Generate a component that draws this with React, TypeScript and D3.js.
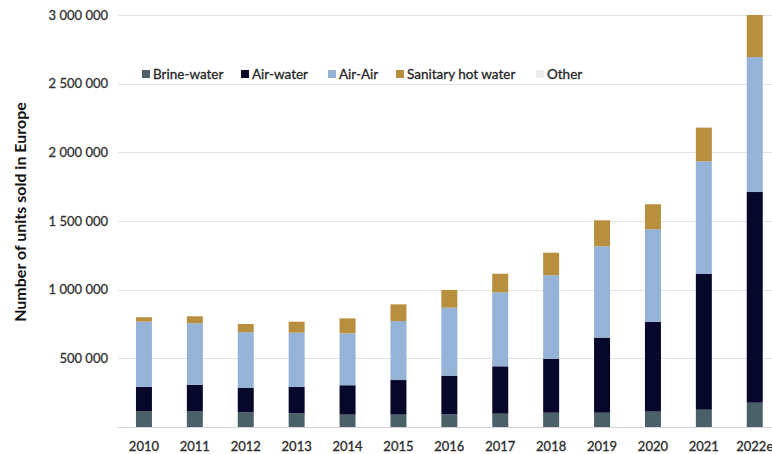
import React, { useRef, useEffect } from "react";
import * as d3 from "d3";

const years = ["2010", "2011", "2012", "2013", "2014", "2015", "2016", "2017", "2018", "2019", "2020", "2021", "2022e"];

const brineWater = [116000, 116000, 107000, 100000, 90000, 90000, 92000, 97000, 104000, 104000, 112000, 126000, 177000];
const airWater = [177000, 192000, 179000, 193000, 214000, 252000, 282000, 345000, 393000, 547000, 653000, 988000, 1534000];
const airAir = [474000, 447000, 404000, 394000, 378000, 430000, 495000, 539000, 608000, 665000, 675000, 821000, 983000];
const sanitaryHotWater = [32000, 51000, 60000, 80000, 109000, 121000, 129000, 135000, 164000, 189000, 182000, 245000, 306000];
const other = [0, 0, 0, 0, 0, 0, 0, 0, 0, 0, 0, 0, 0];

const seriesNames = ["Brine-water", "Air-water", "Air-Air", "Sanitary hot water", "Other"];
const seriesColors = ["#4b6169", "#07072b", "#94b3d6", "#b78f3e", "#ededed"];
const yTicks = [500000, 1000000, 1500000, 2000000, 2500000, 3000000];

const W = 772;
const H = 454;

const App: React.FC = () => {
  const svgRef = useRef<SVGSVGElement>(null);

  useEffect(() => {
    if (!svgRef.current) return;
    const svg = d3.select(svgRef.current);
    svg.selectAll("*").remove();

    const font = "Lato, 'Open Sans', sans-serif";

    const x = d3
      .scaleBand<string>()
      .domain(years)
      .range([118.5, 118.5 + 13 * 50.9])
      .paddingInner(0.686)
      .paddingOuter(0.343);

    const y = d3.scaleLinear().domain([0, 3000000]).range([427, 15]);

    // gridlines
    svg
      .append("g")
      .selectAll("line")
      .data(yTicks)
      .join("line")
      .attr("x1", 118)
      .attr("x2", W)
      .attr("y1", (d) => Math.round(y(d)) + 0.5)
      .attr("y2", (d) => Math.round(y(d)) + 0.5)
      .attr("stroke", "#e3e3e3")
      .attr("stroke-width", 1.2);

    svg
      .append("line")
      .attr("x1", 118)
      .attr("x2", W)
      .attr("y1", Math.round(y(0)) + 0.5)
      .attr("y2", Math.round(y(0)) + 0.5)
      .attr("stroke", "#d4d4d4")
      .attr("stroke-width", 1.2);

    // y tick labels
    const fmt = (v: number) => d3.format(",")(v).replace(/,/g, " ");
    svg
      .append("g")
      .selectAll("text")
      .data(yTicks)
      .join("text")
      .attr("x", 108)
      .attr("y", (d) => y(d))
      .attr("dy", "0.35em")
      .attr("text-anchor", "end")
      .attr("font-family", font)
      .attr("font-size", 13)
      .attr("fill", "#333")
      .attr("stroke", "#333")
      .attr("stroke-width", 0.3)
      .text((d) => fmt(d));

    // stacked bars
    const table = years.map((yr, i) => ({
      year: yr,
      "Brine-water": brineWater[i],
      "Air-water": airWater[i],
      "Air-Air": airAir[i],
      "Sanitary hot water": sanitaryHotWater[i],
      Other: other[i],
    }));
    const stack = d3.stack<any>().keys(seriesNames)(table);

    svg
      .append("g")
      .selectAll("g")
      .data(stack)
      .join("g")
      .attr("fill", (_d, i) => seriesColors[i])
      .selectAll("rect")
      .data((d) => d)
      .join("rect")
      .attr("x", (d: any) => x(d.data.year)!)
      .attr("width", x.bandwidth())
      .attr("y", (d) => y(d[1]))
      .attr("height", (d) => y(d[0]) - y(d[1]));

    // x labels
    svg
      .append("g")
      .selectAll("text")
      .data(years)
      .join("text")
      .attr("x", (d) => x(d)! + x.bandwidth() / 2)
      .attr("y", 451)
      .attr("text-anchor", "middle")
      .attr("font-family", font)
      .attr("font-size", 13)
      .attr("fill", "#2a2a2a")
      .attr("stroke", "#2a2a2a")
      .attr("stroke-width", 0.3)
      .text((d) => d);

    // legend
    const legendX = [142, 241, 328, 396, 536];
    const lg = svg
      .append("g")
      .selectAll("g")
      .data(seriesNames)
      .join("g")
      .attr("transform", (_d, i) => `translate(${legendX[i]},74)`);
    lg.append("rect")
      .attr("x", 0)
      .attr("y", -4)
      .attr("width", 8)
      .attr("height", 8)
      .attr("fill", (_d, i) => seriesColors[i]);
    lg.append("text")
      .attr("x", 11)
      .attr("dy", "0.35em")
      .attr("font-family", font)
      .attr("font-size", 13.5)
      .attr("fill", "#262626")
      .attr("stroke", "#262626")
      .attr("stroke-width", 0.3)
      .text((d) => d);

    // y axis title
    svg
      .append("text")
      .attr("transform", `translate(20,212) rotate(-90)`)
      .attr("dy", "0.35em")
      .attr("text-anchor", "middle")
      .attr("font-family", font)
      .attr("font-weight", "bold")
      .attr("font-size", 16)
      .attr("fill", "#111")
      .text("Number of units sold in Europe");
  }, []);

  return (
    <svg
      ref={svgRef}
      width={W}
      height={H}
      style={{ position: "absolute", left: 0, top: 0, background: "#fff" }}
    />
  );
};

export default App;
